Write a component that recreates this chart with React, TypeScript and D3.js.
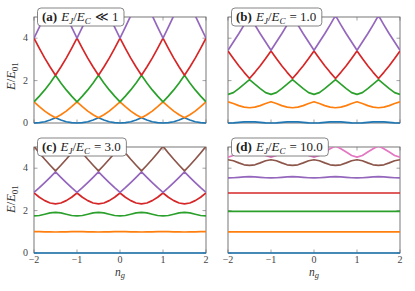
import * as d3 from 'd3';
import React, { useLayoutEffect, useRef, useState } from 'react';

// gate charge grid shared by every level (step 1/8)
const ngValues = [
  -2, -1.875, -1.75, -1.625, -1.5, -1.375, -1.25, -1.125,
  -1, -0.875, -0.75, -0.625, -0.5, -0.375, -0.25, -0.125,
  0, 0.125, 0.25, 0.375, 0.5, 0.625, 0.75, 0.875,
  1, 1.125, 1.25, 1.375, 1.5, 1.625, 1.75, 1.875, 2,
];

const xTicks = [-2, -1, 0, 1, 2];
const yTicks = [0, 2, 4];
const panelLetters = ['a', 'b', 'c', 'd'];
const panelRatios = ['≪ 1', '= 1.0', '= 3.0', '= 10.0'];

// (a) E_J/E_C << 1
const levelsA0 = [0, .02, .06, .14, .25, .14, .06, .02, 0, .02, .06, .14, .25, .14, .06, .02, 0, .02, .06, .14, .25, .14, .06, .02, 0, .02, .06, .14, .25, .14, .06, .02, 0];
const levelsA1 = [1, .77, .56, .39, .25, .39, .56, .77, 1, .77, .56, .39, .25, .39, .56, .77, 1, .77, .56, .39, .25, .39, .56, .77, 1, .77, .56, .39, .25, .39, .56, .77, 1];
const levelsA2 = [1, 1.27, 1.56, 1.89, 2.25, 1.89, 1.56, 1.27, 1, 1.27, 1.56, 1.89, 2.25, 1.89, 1.56, 1.27, 1, 1.27, 1.56, 1.89, 2.25, 1.89, 1.56, 1.27, 1, 1.27, 1.56, 1.89, 2.25, 1.89, 1.56, 1.27, 1];
const levelsA3 = [4, 3.52, 3.06, 2.64, 2.25, 2.64, 3.06, 3.52, 4, 3.52, 3.06, 2.64, 2.25, 2.64, 3.06, 3.52, 4, 3.52, 3.06, 2.64, 2.25, 2.64, 3.06, 3.52, 4, 3.52, 3.06, 2.64, 2.25, 2.64, 3.06, 3.52, 4];
const levelsA4 = [4, 4.52, 5.06, 5.64, 6.25, 5.64, 5.06, 4.52, 4, 4.52, 5.06, 5.64, 6.25, 5.64, 5.06, 4.52, 4, 4.52, 5.06, 5.64, 6.25, 5.64, 5.06, 4.52, 4, 4.52, 5.06, 5.64, 6.25, 5.64, 5.06, 4.52, 4];

// (b) E_J/E_C = 1.0
const levelsB0 = [0, .01, .03, .05, .06, .05, .03, .01, 0, .01, .03, .05, .06, .05, .03, .01, 0, .01, .03, .05, .06, .05, .03, .01, 0, .01, .03, .05, .06, .05, .03, .01, 0];
const levelsB1 = [1, .92, .82, .75, .72, .75, .82, .92, 1, .92, .82, .75, .72, .75, .82, .92, 1, .92, .82, .75, .72, .75, .82, .92, 1, .92, .82, .75, .72, .75, .82, .92, 1];
const levelsB2 = [1.35, 1.43, 1.62, 1.83, 2.05, 1.83, 1.62, 1.43, 1.35, 1.43, 1.62, 1.83, 2.05, 1.83, 1.62, 1.43, 1.35, 1.43, 1.62, 1.83, 2.05, 1.83, 1.62, 1.43, 1.35, 1.43, 1.62, 1.83, 2.05, 1.83, 1.62, 1.43, 1.35];
const levelsB3 = [3.4, 3.04, 2.7, 2.39, 2.1, 2.39, 2.7, 3.04, 3.4, 3.04, 2.7, 2.39, 2.1, 2.39, 2.7, 3.04, 3.4, 3.04, 2.7, 2.39, 2.1, 2.39, 2.7, 3.04, 3.4, 3.04, 2.7, 2.39, 2.1, 2.39, 2.7, 3.04, 3.4];
const levelsB4 = [3.43, 3.82, 4.21, 4.63, 5.07, 4.63, 4.21, 3.82, 3.43, 3.82, 4.21, 4.63, 5.07, 4.63, 4.21, 3.82, 3.43, 3.82, 4.21, 4.63, 5.07, 4.63, 4.21, 3.82, 3.43, 3.82, 4.21, 4.63, 5.07, 4.63, 4.21, 3.82, 3.43];

// (c) E_J/E_C = 3.0
const levelsC0 = [0, 0, 0, 0, 0, 0, 0, 0, 0, 0, 0, 0, 0, 0, 0, 0, 0, 0, 0, 0, 0, 0, 0, 0, 0, 0, 0, 0, 0, 0, 0, 0, 0];
const levelsC1 = [1.01, 1.01, 1, 1, .99, 1, 1, 1.01, 1.01, 1.01, 1, 1, .99, 1, 1, 1.01, 1.01, 1.01, 1, 1, .99, 1, 1, 1.01, 1.01, 1.01, 1, 1, .99, 1, 1, 1.01, 1.01];
const levelsC2 = [1.75, 1.77, 1.83, 1.89, 1.92, 1.89, 1.83, 1.77, 1.75, 1.77, 1.83, 1.89, 1.92, 1.89, 1.83, 1.77, 1.75, 1.77, 1.83, 1.89, 1.92, 1.89, 1.83, 1.77, 1.75, 1.77, 1.83, 1.89, 1.92, 1.89, 1.83, 1.77, 1.75];
const levelsC3 = [2.83, 2.63, 2.47, 2.36, 2.32, 2.36, 2.47, 2.63, 2.83, 2.63, 2.47, 2.36, 2.32, 2.36, 2.47, 2.63, 2.83, 2.63, 2.47, 2.36, 2.32, 2.36, 2.47, 2.63, 2.83, 2.63, 2.47, 2.36, 2.32, 2.36, 2.47, 2.63, 2.83];
const levelsC4 = [2.86, 3.08, 3.32, 3.57, 3.83, 3.57, 3.32, 3.08, 2.86, 3.08, 3.32, 3.57, 3.83, 3.57, 3.32, 3.08, 2.86, 3.08, 3.32, 3.57, 3.83, 3.57, 3.32, 3.08, 2.86, 3.08, 3.32, 3.57, 3.83, 3.57, 3.32, 3.08, 2.86];
const levelsC5 = [5.03, 4.72, 4.42, 4.14, 3.87, 4.14, 4.42, 4.72, 5.03, 4.72, 4.42, 4.14, 3.87, 4.14, 4.42, 4.72, 5.03, 4.72, 4.42, 4.14, 3.87, 4.14, 4.42, 4.72, 5.03, 4.72, 4.42, 4.14, 3.87, 4.14, 4.42, 4.72, 5.03];

// (d) E_J/E_C = 10.0
const levelsD0 = [0, 0, 0, 0, 0, 0, 0, 0, 0, 0, 0, 0, 0, 0, 0, 0, 0, 0, 0, 0, 0, 0, 0, 0, 0, 0, 0, 0, 0, 0, 0, 0, 0];
const levelsD1 = [1, 1, 1, 1, 1, 1, 1, 1, 1, 1, 1, 1, 1, 1, 1, 1, 1, 1, 1, 1, 1, 1, 1, 1, 1, 1, 1, 1, 1, 1, 1, 1, 1];
const levelsD2 = [1.96, 1.96, 1.96, 1.96, 1.96, 1.96, 1.96, 1.96, 1.96, 1.96, 1.96, 1.96, 1.96, 1.96, 1.96, 1.96, 1.96, 1.96, 1.96, 1.96, 1.96, 1.96, 1.96, 1.96, 1.96, 1.96, 1.96, 1.96, 1.96, 1.96, 1.96, 1.96, 1.96];
const levelsD3 = [2.83, 2.83, 2.83, 2.83, 2.83, 2.83, 2.83, 2.83, 2.83, 2.83, 2.83, 2.83, 2.83, 2.83, 2.83, 2.83, 2.83, 2.83, 2.83, 2.83, 2.83, 2.83, 2.83, 2.83, 2.83, 2.83, 2.83, 2.83, 2.83, 2.83, 2.83, 2.83, 2.83];
const levelsD4 = [3.54, 3.55, 3.57, 3.59, 3.6, 3.59, 3.57, 3.55, 3.54, 3.55, 3.57, 3.59, 3.6, 3.59, 3.57, 3.55, 3.54, 3.55, 3.57, 3.59, 3.6, 3.59, 3.57, 3.55, 3.54, 3.55, 3.57, 3.59, 3.6, 3.59, 3.57, 3.55, 3.54];
const levelsD5 = [4.4, 4.35, 4.25, 4.16, 4.13, 4.16, 4.25, 4.35, 4.4, 4.35, 4.25, 4.16, 4.13, 4.16, 4.25, 4.35, 4.4, 4.35, 4.25, 4.16, 4.13, 4.16, 4.25, 4.35, 4.4, 4.35, 4.25, 4.16, 4.13, 4.16, 4.25, 4.35, 4.4];
const levelsD6 = [4.52, 4.6, 4.76, 4.92, 5.05, 4.92, 4.76, 4.6, 4.52, 4.6, 4.76, 4.92, 5.05, 4.92, 4.76, 4.6, 4.52, 4.6, 4.76, 4.92, 5.05, 4.92, 4.76, 4.6, 4.52, 4.6, 4.76, 4.92, 5.05, 4.92, 4.76, 4.6, 4.52];

const panelLevels = [
  [levelsA0, levelsA1, levelsA2, levelsA3, levelsA4],
  [levelsB0, levelsB1, levelsB2, levelsB3, levelsB4],
  [levelsC0, levelsC1, levelsC2, levelsC3, levelsC4, levelsC5],
  [levelsD0, levelsD1, levelsD2, levelsD3, levelsD4, levelsD5, levelsD6],
];

const colors = d3.schemeCategory10;

const W = 415;
const H = 291;
const colLeft = [34, 228];
const rowTop = [17, 147];
const pw = 172;
const ph = 106;
const yLabelCenter = [76, 199];
const serif = "'Liberation Serif'";

function Panel({ idx }: { idx: number }) {
  const col = idx % 2;
  const row = Math.floor(idx / 2);
  const left = colLeft[col];
  const top = rowTop[row];

  const titleRef = useRef<SVGTextElement>(null);
  const [boxW, setBoxW] = useState(90);
  useLayoutEffect(() => {
    if (titleRef.current) setBoxW(titleRef.current.getBBox().width + 10);
  }, []);

  const x = d3.scaleLinear().domain([-2, 2]).range([left, left + pw]);
  const y = d3.scaleLinear().domain([0, 5]).range([top + ph, top]);

  const line = d3
    .line<number>()
    .x((_, i) => x(ngValues[i]))
    .y((d) => y(d));

  const clipId = `clip-${idx}`;
  const showY = col === 0;
  const showX = row === 1;
  const tick = 3.5;

  return (
    <g>
      <defs>
        <clipPath id={clipId}>
          <rect x={left} y={top} width={pw} height={ph + 1.5} />
        </clipPath>
      </defs>
      <rect x={left} y={top} width={pw} height={ph} fill="none" stroke="#555" strokeWidth={0.8} />
      {xTicks.map((t) => (
        <g key={'x' + t}>
          <line x1={x(t)} x2={x(t)} y1={top + ph} y2={top + ph - tick} stroke="#666" strokeWidth={0.6} />
          <line x1={x(t)} x2={x(t)} y1={top} y2={top + tick} stroke="#666" strokeWidth={0.6} />
          {showX && (
            <text x={x(t)} y={top + ph + 9.5} textAnchor="middle" fontSize={10} fill="#444" style={{ fontFamily: serif }}>
              {t < 0 ? '\u2212' + Math.abs(t) : String(t)}
            </text>
          )}
        </g>
      ))}
      {yTicks.map((t) => (
        <g key={'y' + t}>
          <line x1={left} x2={left + tick} y1={y(t)} y2={y(t)} stroke="#666" strokeWidth={0.6} />
          <line x1={left + pw} x2={left + pw - tick} y1={y(t)} y2={y(t)} stroke="#666" strokeWidth={0.6} />
          {showY && (
            <text x={left - 6} y={y(t)} dy="0.32em" textAnchor="end" fontSize={10} fill="#444" style={{ fontFamily: serif }}>
              {t}
            </text>
          )}
        </g>
      ))}
      <g clipPath={`url(#${clipId})`}>
        {panelLevels[idx].map((lv, i) => (
          <path key={i} d={line(lv) || ''} fill="none" stroke={colors[i]} strokeWidth={1.7} strokeLinejoin="round" />
        ))}
      </g>
      {showY && (
        <text
          transform={`translate(15,${yLabelCenter[row]}) rotate(-90)`}
          textAnchor="middle"
          fontSize={12.5}
          fill="#333"
          style={{ fontFamily: serif }}
        >
          <tspan fontStyle="italic">E</tspan>
          <tspan>/</tspan>
          <tspan fontStyle="italic">E</tspan>
          <tspan fontSize={9} dy={2.5}>01</tspan>
        </text>
      )}
      {showX && (
        <text x={left + pw / 2} y={top + ph + 22.5} textAnchor="middle" fontSize={11.5} fill="#333" style={{ fontFamily: serif }}>
          <tspan fontStyle="italic">n</tspan>
          <tspan fontSize={8.5} dy={2} fontStyle="italic">g</tspan>
        </text>
      )}
      <rect x={left + 3.5} y={top - 9} width={boxW} height={18} rx={3.5} fill="#fff" stroke="#666" strokeWidth={0.8} />
      <text ref={titleRef} x={left + 8} y={top + 4} fontSize={13} fill="#222" style={{ fontFamily: serif }}>
        <tspan fontWeight="bold">({panelLetters[idx]})</tspan>
        <tspan dx={4} fontStyle="italic">E</tspan>
        <tspan fontSize={9} dy={2.5} fontStyle="italic">J</tspan>
        <tspan dy={-2.5}>/</tspan>
        <tspan fontStyle="italic">E</tspan>
        <tspan fontSize={9} dy={2.5} fontStyle="italic">C</tspan>
        <tspan dy={-2.5} dx={4}>{panelRatios[idx]}</tspan>
      </text>
    </g>
  );
}

export default function App() {
  return (
    <svg width={W} height={H} style={{ position: 'absolute', left: 0, top: 0, background: '#fff' }}>
      {[0, 1, 2, 3].map((i) => (
        <Panel key={i} idx={i} />
      ))}
    </svg>
  );
}
